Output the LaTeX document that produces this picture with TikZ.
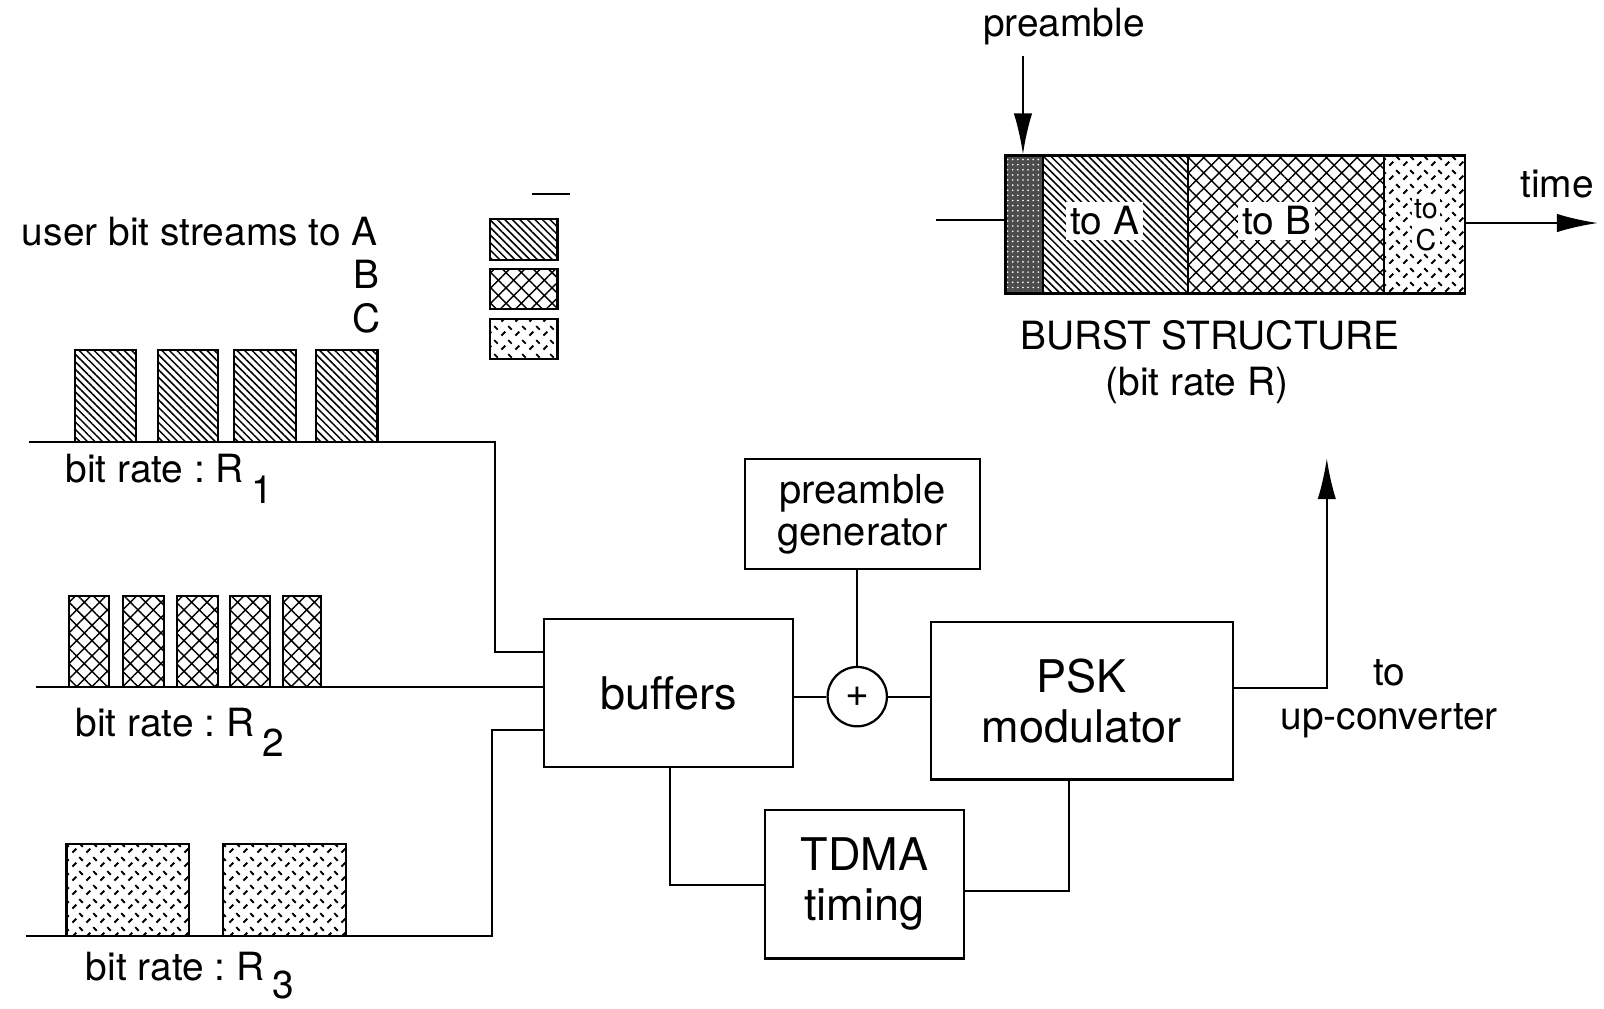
\documentclass[tikz,border=0pt]{standalone}
\usepackage{fontspec}
\setmainfont{TeX Gyre Heros}
\usetikzlibrary{patterns.meta,arrows.meta,fit}
\frenchspacing
\tikzdeclarepattern{
  name=ticks,
  type=uncolored,
  bounding box={(0,0) and (7pt,7pt)},
  tile size={(7pt,7pt)},
  code={
    \draw[line width=0.95pt] (0.7pt,0.7pt) -- (2.7pt,2.7pt);
    \draw[line width=0.95pt] (4.2pt,5.5pt) -- (6pt,3.7pt);
  }
}
\begin{document}
\begin{tikzpicture}[x=0.5pt,y=-0.5pt, line width=1pt,
  box/.style={draw, line width=1.1pt, inner sep=0pt},
  txt/.style={font=\fontsize{19}{21.5}\selectfont, inner sep=0pt, align=center},
  pgf/.style={font=\fontsize{19.5}{20.5}\selectfont, inner sep=0pt, align=center},
  big/.style={font=\fontsize{22}{24.5}\selectfont, inner sep=0pt, align=center},
  arr/.style={-{Latex[length=20pt,width=9pt]}},
  hA/.style={pattern={Lines[angle=-45,distance=2.6pt,line width=0.75pt]}},
  hB/.style={pattern={Hatch[angle=45,distance=5.3pt,line width=0.7pt]}},
  hC/.style={pattern=ticks},
  bar/.style={draw, line width=1pt}]

\useasboundingbox (0,0) rectangle (1568,986);

% legend
\draw (520,190) -- (557,190);
\draw[bar,hA] (479,214) rectangle (545,254);
\draw[bar,hB] (479,263) rectangle (545,302);
\draw[bar,hC] (479,312) rectangle (545,351);
\node[txt, anchor=base east] (lblA) at (370,240) {user bit streams to A};
\node[txt, anchor=base east] (lblB) at (372,282) {B};
\node[txt, anchor=base east] (lblC) at (373,325) {C};

% stream bars
\foreach \a/\b in {73/133,154/213,229/289,309/369}
  \draw[bar,hA] (\a,342) rectangle (\b,432);
\foreach \a/\b in {67/107,120/160,173/213,225/264,277/314}
  \draw[bar,hB] (\a,583) rectangle (\b,672);
\foreach \a/\b in {65/185,218/338}
  \draw[bar,hC] (\a,825) rectangle (\b,915);

\node[txt, anchor=base west] (rA) at (63,472) {bit rate : R\kern0.2em\raisebox{-0.52em}{1}};
\node[txt, anchor=base west] (rB) at (73,720) {bit rate : R\kern0.2em\raisebox{-0.52em}{2}};
\node[txt, anchor=base west] (rC) at (83,958) {bit rate : R\kern0.2em\raisebox{-0.48em}{3}};

% blocks
\node[box, fit={(532,605) (775,750)}] (buf) {};
\node[big] (bufT) at (buf.center) {buffers};
\node[box, fit={(728,449) (958,556)}] (pg) {};
\node[pgf] (pgT) at (pg.center) {preamble\\generator};
\node[box, fit={(910,608) (1205,762)}] (psk) {};
\node[big] (pskT) at (psk.center) {PSK\\modulator};
\node[box, fit={(748,792) (942,937)}] (tdma) {};
\node[big] (tdmaT) at (tdma.center) {TDMA\\timing};
\node[draw, circle, line width=1.1pt, minimum size=29pt, inner sep=0pt,
      font=\fontsize{20}{20}\selectfont] (sum) at (838,681) {+};

% stream lines
\coordinate (sA) at (28,432);
\coordinate (sB) at (35,672);
\coordinate (sC) at (25,915);
\draw (sA) -- (484,432) |- (buf.west |- 0,637);
\draw (sB) -- (buf.west |- sB);
\draw (sC) -- (481,915) |- (buf.west |- 0,714);

% connections
\draw (sum.west -| buf.east) -- (sum.west);
\draw (sum.east) -- (sum.east -| psk.west);
\draw (pg.south -| sum.north) -- (sum.north);
\draw (buf.south -| 655,0) |- (tdma.west |- 0,865);
\draw (tdma.east |- 0,871) -| (psk.south -| 1045,0);
\coordinate (up) at (1297,448);
\draw[arr] (psk.east |- 0,673) -| (up);
\node[txt] (upc) at (1358,683) {to\\up-converter};

% burst structure
\fill[black!70] (983,152) rectangle (1020,287);
\fill[pattern={Dots[distance=2.5pt,radius=0.45pt]}, pattern color=white] (983,152) rectangle (1020,287);
\path[hA] (1020,152) rectangle (1161,287);
\path[hB] (1161,152) rectangle (1353,287);
\path[hC] (1353,152) rectangle (1432,287);
\node[draw, line width=1.1pt, fit={(983,152) (1432,287)}, inner sep=0pt] (burst) {};
\draw (1020,152) -- (1020,287);
\draw (1161,152) -- (1161,287);
\draw (1353,152) -- (1353,287);
\node[txt, fill=white, inner sep=2pt] (toA) at (1080,216) {to A};
\node[txt, fill=white, inner sep=2pt] (toB) at (1248,216) {to B};
\node[fill=white, inner sep=1pt, align=center, font=\fontsize{14}{16}\selectfont] (toC) at (1394,220) {to\\C};

\node[txt] (pre) at (1040,26) {preamble};
\coordinate (pa) at (1000,55);
\draw[arr] (pa) -- (burst.north -| pa);
\coordinate (bin) at (915,215);
\draw (bin) -- (burst.west |- bin);
\coordinate (tend) at (1562,218);
\draw[arr] (burst.east |- tend) -- (tend);
\node[txt] (time) at (1522,180) {time};
\node[txt] (bs) at (1183,328) {BURST STRUCTURE};
\node[txt] (br) at (1170,377) {(bit rate R)};
\end{tikzpicture}
\end{document}
